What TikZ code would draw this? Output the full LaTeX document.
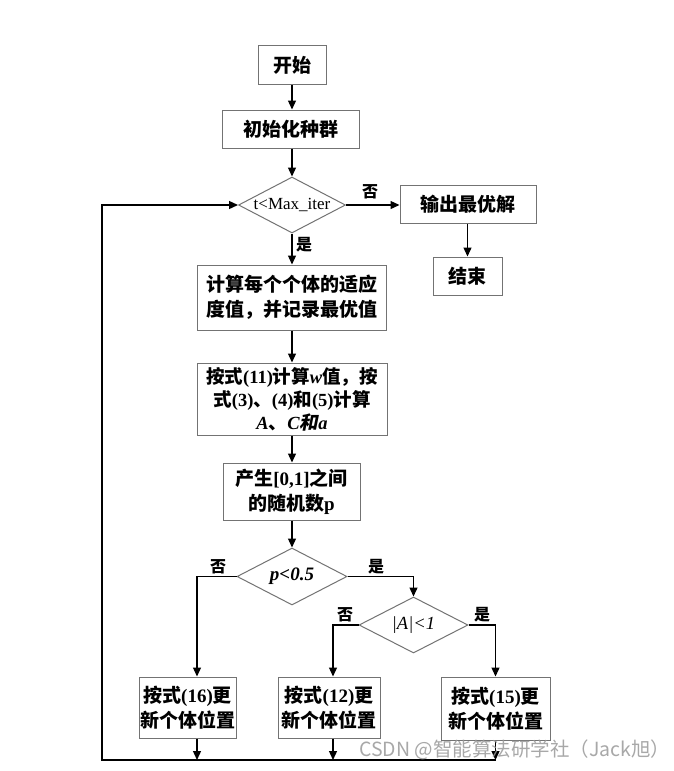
\documentclass[tikz,border=0pt]{standalone}
\usepackage{fontspec}
\setmainfont{Liberation Serif}
\newfontfamily\cj{Noto Sans CJK SC}
\newfontfamily\cjs{Noto Sans CJK SC}[FakeSlant=0.2]
\usetikzlibrary{shapes.geometric,arrows.meta}
\begin{document}
\begin{tikzpicture}[x=1pt,y=-1pt,
  box/.style={draw=black!55, line width=1pt, fill=white, align=center, inner sep=1pt,
    font=\fontsize{19}{25}\selectfont\bfseries},
  dec/.style={diamond, draw=black!55, line width=1pt, inner sep=0pt},
  dtext/.style={font=\fontsize{17}{20}\selectfont},
  arr/.style={-{Triangle[length=9pt,width=8pt]}, line width=1.3pt, draw=black},
  lab/.style={font=\cj\fontsize{16}{18}\selectfont\bfseries, inner sep=1pt}]
\useasboundingbox (0,0) rectangle (673,771);
\fill[white] (0,0) rectangle (673,771);

% boxes
\node[box, minimum width=68, minimum height=39] (start) at (292,65) {\cj 开始};
\node[box, minimum width=137, minimum height=38] (init) at (290.5,129) {\cj 初始化种群};
\node[dec, minimum width=107, minimum height=56] (d1) at (292,205) {};
\node[dtext] (d1t) at (d1) {t<Max\_iter};
\node[box, minimum width=136, minimum height=38] (out) at (468,204) {\cj 输出最优解};
\node[box, minimum width=69, minimum height=38] (end) at (467.5,276) {\cj 结束};
\node[box, minimum width=189, minimum height=65] (calc) at (291.5,297.5)
  {{\cj 计算每个个体的适应}\\{\cj 度值，并记录最优值}};
\node[box, minimum width=190, minimum height=72, font=\fontsize{18.5}{23}\selectfont\bfseries] (wbox) at (292,399)
  {{\cj 按式}(11){\cj 计算}\textit{w}{\cj 值，按}\\{\cj 式}(3){\cj 、}(4){\cj 和}(5){\cj 计算}\\\textit{A}{\cj 、}\textit{C}{\cjs 和}\textit{a}};
\node[box, minimum width=137, minimum height=57] (rand) at (291.5,491.5)
  {{\cj 产生}[0,1]{\cj 之间}\\{\cj 的随机数}p};
\node[dec, minimum width=110, minimum height=57] (d2) at (292,576.5) {};
\node[dtext, font=\fontsize{19}{20}\selectfont\bfseries\itshape] (d2t) at (d2) {p<0.5};
\node[dec, minimum width=109, minimum height=56] (d3) at (413.5,625) {};
\node[dtext, font=\fontsize{18.5}{20}\selectfont\itshape] (d3t) at (d3) {|A|<1};
\node[box, minimum width=91, minimum height=61] (b16) at (187.5,707.5)
  {{\cj 按式}(16){\cj 更}\\{\cj 新个体位置}};
\node[box, minimum width=102, minimum height=61] (b12) at (329,707.5)
  {{\cj 按式}(12){\cj 更}\\{\cj 新个体位置}};
\node[box, minimum width=109, minimum height=63] (b15) at (495.5,708.5)
  {{\cj 按式}(15){\cj 更}\\{\cj 新个体位置}};

\coordinate (x16) at (197,700);
\coordinate (x12) at (333,700);
\coordinate (bl) at (102,760);

% connectors
\draw[arr] (start.south) -- (start.south |- init.north);
\draw[arr] (init.south -| d1.north) -- (d1.north);
\draw[arr] (d1.east) -- (d1.east -| out.west);
\draw[arr] (out.south -| end.north) -- (end.north);
\draw[arr] (d1.south) -- (d1.south |- calc.north);
\draw[arr] (calc.south -| wbox.north) -- (wbox.north);
\draw[arr] (wbox.south) -- (wbox.south |- rand.north);
\draw[arr] (rand.south -| d2.north) -- (d2.north);
\draw[arr] (d2.east) -| (d3.north);
\draw[arr] (d2.west) -| (x16 |- b16.north);
\draw[arr] (d3.west) -| (x12 |- b12.north);
\draw[arr] (d3.east) -| (d3.east -| b15.north) -- (b15.north);
\draw[arr] (x16 |- b16.south) -- (x16 |- bl);
\draw[arr] (x12 |- b12.south) -- (x12 |- bl);
\draw[arr] (b15.south) -- (b15.south |- bl);
\draw[arr] (b15.south |- bl) -- (bl) |- (d1.west);

% labels
\node[lab] (l1) at (370,192) {否};
\node[lab] (l2) at (304,245) {是};
\node[lab] (l3) at (218,567) {否};
\node[lab] (l4) at (376,567) {是};
\node[lab] (l5) at (345,615) {否};
\node[lab] (l6) at (482,615) {是};

% watermark
\node[font=\cj\fontsize{19.5}{21}\selectfont, text=black!40, opacity=0.85, inner sep=0pt, anchor=west] (wm) at (359,750) {CSDN @智能算法研学社（Jack旭）};
\end{tikzpicture}
\end{document}
